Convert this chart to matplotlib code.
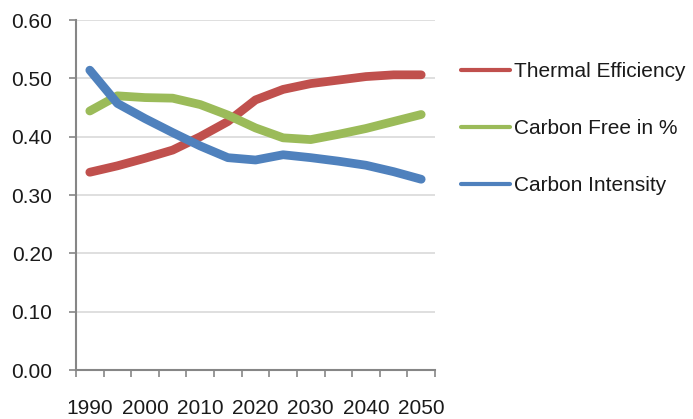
import matplotlib
matplotlib.use("Agg")
import matplotlib.pyplot as plt
import numpy as np

years = [1990, 1995, 2000, 2005, 2010, 2015, 2020, 2025, 2030, 2035, 2040, 2045, 2050]
thermal_efficiency = [0.339, 0.350, 0.363, 0.377, 0.400, 0.426, 0.463, 0.481, 0.491, 0.497, 0.503, 0.506, 0.506]
carbon_free = [0.444, 0.470, 0.467, 0.466, 0.455, 0.437, 0.415, 0.398, 0.395, 0.404, 0.414, 0.426, 0.438]
carbon_intensity = [0.514, 0.457, 0.431, 0.407, 0.384, 0.364, 0.360, 0.369, 0.364, 0.358, 0.351, 0.340, 0.327]
series_names = ["Thermal Efficiency", "Carbon Free in %", "Carbon Intensity"]
y_ticks = [0.0, 0.1, 0.2, 0.3, 0.4, 0.5, 0.6]

colors = ["#C0504D", "#9BBB59", "#4F81BD"]
plt.rcParams["font.family"] = ["Liberation Sans", "DejaVu Sans"]

W, H = 693, 419
fig = plt.figure(figsize=(W / 100, H / 100), dpi=100)
ax = fig.add_axes([76 / W, (H - 370) / H, (435 - 76) / W, 350 / H])

x = np.arange(len(years))
for vals, c, name in zip([thermal_efficiency, carbon_free, carbon_intensity], colors, series_names):
    ax.plot(x, vals, color=c, lw=6.3, solid_capstyle="round", solid_joinstyle="round", label=name)

ax.set_xlim(-0.5, len(years) - 0.5)
ax.set_ylim(0, 0.6)
ax.set_yticks(y_ticks)
ax.set_yticklabels([f"{v:.2f}" for v in y_ticks], fontsize=15, color="#1a1a1a")
ax.yaxis.grid(True, color="#D9D9D9", lw=1.2)
ax.set_axisbelow(True)

# category boundaries get tick marks, every other category gets a label
ax.set_xticks(np.arange(-0.5, len(years)), minor=True)
ax.set_xticks(x[::2])
ax.set_xticklabels([str(y) for y in years[::2]], fontsize=15, color="#1a1a1a")
ax.tick_params(axis="x", which="major", length=0, pad=21)
ax.tick_params(axis="x", which="minor", length=5, width=1.2, color="#868686", direction="out")
ax.tick_params(axis="y", length=5, width=1.2, color="#868686", direction="out", pad=12)

for s in ["top", "right"]:
    ax.spines[s].set_visible(False)
for s in ["left", "bottom"]:
    ax.spines[s].set_color("#868686")
    ax.spines[s].set_linewidth(1.5)

leg = fig.legend(loc="upper left", bbox_to_anchor=(461 / W, 1 - 62 / H), frameon=False,
                 fontsize=15, handlelength=2.35, handletextpad=0.2, labelspacing=1.82,
                 borderpad=0, borderaxespad=0)
for line in leg.get_lines():
    line.set_linewidth(3)
for t in leg.get_texts():
    t.set_color("#1a1a1a")

fig.savefig("out.png", dpi=100)
